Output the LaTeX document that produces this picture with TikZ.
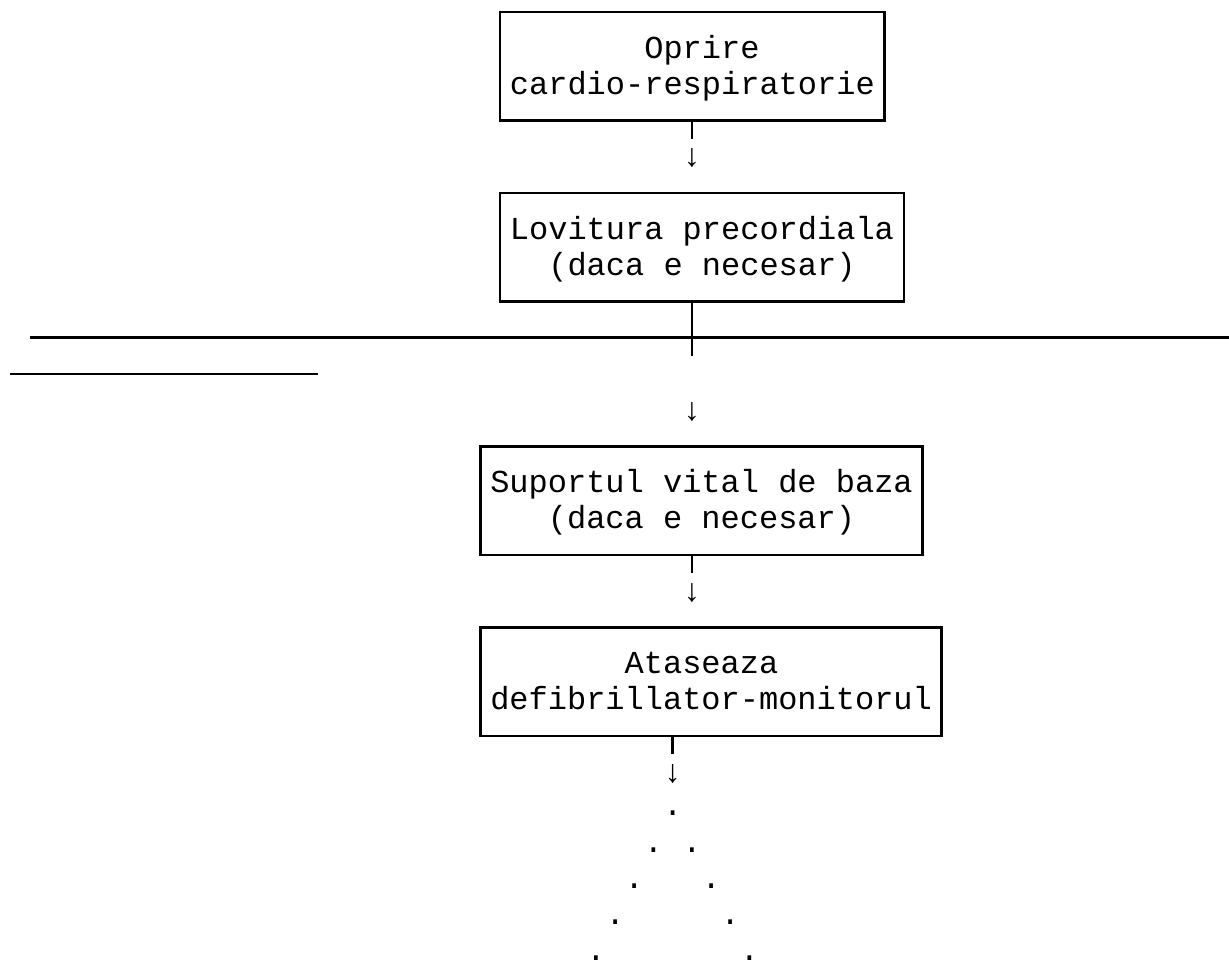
\documentclass[tikz,border=0pt]{standalone}
\usepackage{fontspec}
\setmonofont{Liberation Mono}
\usetikzlibrary{positioning}
\newcommand{\rs}{\rule[-8pt]{0pt}{36.2pt}}
\begin{document}
\begin{tikzpicture}[x=1pt,y=-1pt,
  mono/.style={font=\ttfamily\fontsize{32}{36.2}\selectfont},
  box/.style={mono,draw,line width=2.8pt,inner sep=0pt,minimum height=108.6pt,align=center},
  txt/.style={mono,inner sep=0pt,anchor=base},
  link/.style={line width=2.8pt}]
\useasboundingbox (0,0) rectangle (1229,964);
\node[box,minimum width=384.7pt] (b1) at (692.35,66.3) {\rs\hspace*{0.6em}Oprire\\\rs cardio-respiratorie};
\node[box,minimum width=403.9pt] (b2) at (701.95,247.3) {\rs Lovitura precordiala\\\rs (daca e necesar)};
\node[box,minimum width=441.6pt] (b3) at (701.5,500.7) {\rs Suportul vital de baza\\\rs (daca e necesar)};
\node[box,minimum width=460.8pt] (b4) at (711.1,681.7) {\rs Ataseaza\hspace*{0.6em}\\\rs defibrillator-monitorul};
\coordinate (s1) at (691.9,138.7);
\coordinate (s2) at (691.9,355.9);
\coordinate (s3) at (691.9,573.1);
\coordinate (s4) at (672.7,754.1);
\coordinate (h1) at (29.5,337.8);
\coordinate (h2) at (1229,337.8);
\coordinate (h3) at (10.3,374);
\coordinate (h4) at (317.5,374);
\draw[link] (s1 |- b1.south) -- (s1);
\draw[link] (s2 |- b2.south) -- (s2);
\draw[link] (s3 |- b3.south) -- (s3);
\draw[link] (s4 |- b4.south) -- (s4);
\draw[link] (h1) -- (h2);
\draw[link] (h3) -- (h4);
\node[txt] (a1) at (691.9,166.8) {↓};
\node[txt] (a2) at (691.9,420.2) {↓};
\node[txt] (a3) at (691.9,601.2) {↓};
\node[txt] (a4) at (672.7,782.2) {↓};
\foreach \c/\r in {34/22,33/23,35/23,32/24,36/24,31/25,37/25,30/26,38/26}
  \node[txt] (d\c-\r) at ({10.3+19.2*(\c+0.5)},{19.5+36.2*\r}) {.};
\end{tikzpicture}
\end{document}
